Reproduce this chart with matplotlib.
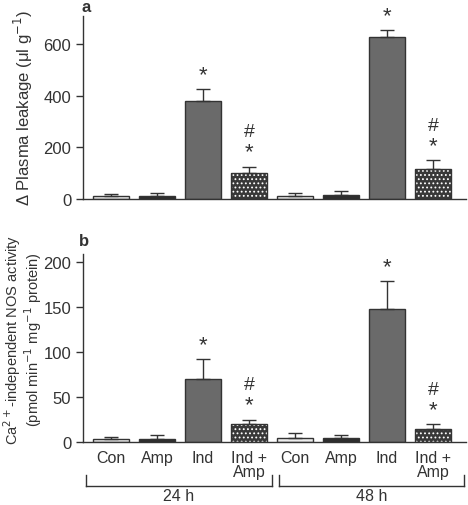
import matplotlib
matplotlib.use("Agg")
import matplotlib.pyplot as plt
import numpy as np

plt.rcParams['font.family'] = ['Liberation Sans', 'DejaVu Sans']
plt.rcParams['hatch.linewidth'] = 0.8

groups = ["Con", "Amp", "Ind", "Ind +\nAmp"]
times = ["24 h", "48 h"]
leak_vals = [10, 12, 380, 100, 12, 17, 628, 118]
leak_err = [8, 12, 45, 25, 10, 15, 27, 32]
nos_vals = [3, 3, 70, 20, 5, 4, 148, 14]
nos_err = [3, 5, 22, 5, 5, 4, 31, 6]
# significance marks: '*' vs control, '#' vs Ind
star = [False, False, True, True, False, False, True, True]
hashm = [False, False, False, True, False, False, False, True]

W, H = 468, 506
fig = plt.figure(figsize=(W / 100, H / 100), dpi=100)

def ax_rect(l, t, r, b):
    return [l / W, 1 - b / H, (r - l) / W, (b - t) / H]

ax_a = fig.add_axes(ax_rect(83, 17, 466, 200))
ax_b = fig.add_axes(ax_rect(83, 255, 466, 443))

face = ['#ececec', '#2e2e2e', '#6a6a6a', '#3a3a3a']
edge = '#333333'
x = np.arange(8)

def draw(ax, vals, errs, ymax, ticks):
    for i in range(8):
        k = i % 4
        if k == 3:
            ax.bar(x[i], vals[i], width=0.78, color='#383838', edgecolor='white',
                   hatch='....', linewidth=0, zorder=2)
            ax.bar(x[i], vals[i], width=0.78, color='none', edgecolor=edge,
                   linewidth=1.0, zorder=3)
        else:
            ax.bar(x[i], vals[i], width=0.78, color=face[k], edgecolor=edge,
                   linewidth=1.0, zorder=2)
        ax.errorbar(x[i], vals[i], yerr=[[0], [errs[i]]], fmt='none',
                    ecolor='#333333', elinewidth=1.0, capsize=5, capthick=1.0, zorder=4)
        top = vals[i] + errs[i]
        if star[i]:
            ax.annotate('*', (x[i], top), xytext=(0, 3), textcoords='offset points',
                        ha='center', va='bottom', fontsize=16, color='#333333')
        if hashm[i]:
            ax.annotate('#', (x[i], top), xytext=(0, 19), textcoords='offset points',
                        ha='center', va='bottom', fontsize=14, color='#333333')
    ax.set_xlim(-0.61, 7.72)
    ax.set_ylim(0, ymax)
    ax.set_yticks(ticks)
    for s in ['top', 'right']:
        ax.spines[s].set_visible(False)
    for s in ['left', 'bottom']:
        ax.spines[s].set_color('#333333')
        ax.spines[s].set_linewidth(1.0)
    ax.tick_params(axis='y', direction='out', length=5, labelsize=12, colors='#333333', width=1.0)

draw(ax_a, leak_vals, leak_err, 710, [0, 200, 400, 600])
ax_a.set_xticks([])
draw(ax_b, nos_vals, nos_err, 209, [0, 50, 100, 150, 200])
ax_b.set_xticks(x)
ax_b.set_xticklabels(groups * 2, fontsize=11.5, color='#333333', linespacing=0.9)
ax_b.tick_params(axis='x', length=0, pad=6)

ax_a.set_ylabel('Δ Plasma leakage (μl g$^{-1}$)', fontsize=12, color='#333333', labelpad=6)
ax_b.set_ylabel('Ca$^{2+}$-independent NOS activity\n(pmol min$^{-1}$ mg$^{-1}$ protein)',
                fontsize=10.5, color='#333333', linespacing=0.95)
ax_b.yaxis.set_label_coords(-0.103, 0.55)

fig.text(81 / W, 1 - 7 / H, 'a', fontsize=12, fontweight='bold', va='center', ha='left', color='#333333')
fig.text(79 / W, 1 - 241 / H, 'b', fontsize=12, fontweight='bold', va='center', ha='left', color='#333333')

# group brackets
def bracket(x0, x1, label):
    yb = 1 - 487 / H
    yt = 1 - 476 / H
    fig.add_artist(plt.Line2D([x0 / W, x1 / W], [yb, yb], color='#333333', lw=1.0))
    fig.add_artist(plt.Line2D([x0 / W, x0 / W], [yb, yt], color='#333333', lw=1.0))
    fig.add_artist(plt.Line2D([x1 / W, x1 / W], [yb, yt], color='#333333', lw=1.0))
    fig.text((x0 + x1) / 2 / W, 1 - 497 / H, label, ha='center', va='center',
             fontsize=11.5, color='#333333')

bracket(86, 272, times[0])
bracket(279, 464, times[1])

fig.savefig('out.png', dpi=100)
